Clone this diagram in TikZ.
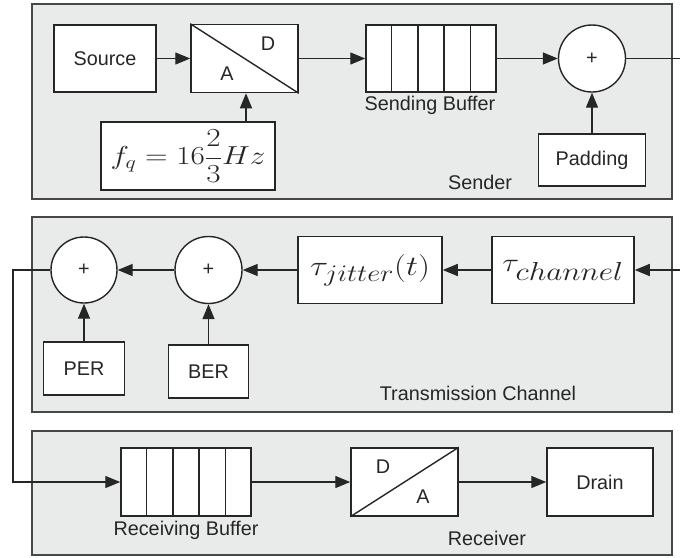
\RequirePackage{fix-cm}
\documentclass[tikz,border=0pt]{standalone}
\usepackage[no-math]{fontspec}
\setmainfont{Liberation Sans}
\usepackage{graphicx}
\usetikzlibrary{arrows.meta,calc}
\definecolor{panel}{RGB}{233,234,234}
\definecolor{ink}{RGB}{38,38,38}
\begin{document}
\begin{tikzpicture}[x=1pt,y=-1pt,
  every node/.style={font=\fontsize{19.8}{22}\selectfont, text=ink},
  panelbox/.style={draw=ink!85, fill=panel, line width=1.6pt},
  blk/.style={draw=ink, fill=white, line width=1.5pt, inner sep=0pt},
  sumnode/.style={circle, draw=ink, fill=white, line width=1.4pt, minimum size=67pt, inner sep=0pt},
  arr/.style={draw=ink, line width=1.4pt, -{Triangle[length=15pt,width=12pt]}},
  wire/.style={draw=ink, line width=1.4pt},
  mathbig/.style={font=\fontsize{26}{30}\selectfont}
]
\useasboundingbox (0,0) rectangle (680,557);

% panels
\draw[panelbox] (32,4) rectangle (672,199);
\draw[panelbox] (32,217) rectangle (672,412);
\draw[panelbox] (32,431) rectangle (672,555);

% ---------- Sender ----------
\node[blk, minimum width=102pt, minimum height=67pt] (src) at (105,58.5) {Source};
\node[blk, minimum width=107pt, minimum height=68pt] (ad) at (244.5,58.5) {};
\draw[wire] (ad.north west) -- (ad.south east);
\node (adD) at (268,44) {D};
\node (adA) at (227,74) {A};
\node[blk, minimum width=174pt, minimum height=68pt, mathbig] (freq) at (188,156)
  {\scalebox{1.2}[1]{$\displaystyle f_q=16\frac{2}{3}Hz$}};
\node[blk, minimum width=130pt, minimum height=67pt] (sbuf) at (431,58.5) {};
\foreach \i in {1,...,4}
  \draw[wire] ($(sbuf.north west)!\i/5!(sbuf.north east)$) -- ($(sbuf.south west)!\i/5!(sbuf.south east)$);
\node (sbufl) at (430,105) {Sending Buffer};
\node[sumnode] (p1) at (592,58.5) {+};
\node[blk, minimum width=107pt, minimum height=52pt] (pad) at (592,160) {Padding};
\node (sender) at (480,182) {Sender};
\coordinate (outS) at (680,58.5);

\draw[arr] (src.east) -- (ad.west);
\draw[arr] (ad.south |- freq.north) ++(1.5,0) -- ($(ad.south)+(1.5,0)$);
\draw[arr] (ad.east) -- (sbuf.west);
\draw[arr] (sbuf.east) -- (p1.west);
\draw[arr] (pad.north) -- (p1.south);
\draw[wire] (p1.east) -- (outS);

% ---------- Transmission Channel ----------
\coordinate (inC) at (680,270);
\node[blk, minimum width=142pt, minimum height=67pt, mathbig] (chan) at (563,270)
  {\scalebox{1.2}[1]{$\tau_{\textstyle channel}$}};
\node[blk, minimum width=144pt, minimum height=67pt, font=\fontsize{28}{32}\selectfont] (jit) at (370,270)
  {\scalebox{1.2}[1]{$\tau_{\scalebox{0.85}{$\textstyle jitter$}}(t)$}};
\node[sumnode] (pB) at (208.5,270) {+};
\node[sumnode, minimum size=66pt] (pA) at (84,270) {+};
\node[blk, minimum width=81pt, minimum height=53pt] (per) at (84,368.5) {PER};
\node[blk, minimum width=80pt, minimum height=53pt] (ber) at (208.5,371.5) {BER};
\node (tcl) at (478,393) {Transmission Channel};
\coordinate (bend) at (13,270);

\draw[arr] (inC) -- (chan.east);
\draw[arr] (chan.west) -- (jit.east);
\draw[arr] (jit.west) -- (pB.east);
\draw[arr] (pB.west) -- (pA.east);
\draw[arr] (per.north) -- (pA.south);
\draw[arr] (ber.north) -- (pB.south);

% ---------- Receiver ----------
\node[blk, minimum width=130pt, minimum height=68pt] (rbuf) at (186,482) {};
\foreach \i in {1,...,4}
  \draw[wire] ($(rbuf.north west)!\i/5!(rbuf.north east)$) -- ($(rbuf.south west)!\i/5!(rbuf.south east)$);
\node (rbufl) at (186,530) {Receiving Buffer};
\node[blk, minimum width=107pt, minimum height=68pt] (da) at (404.5,482) {};
\draw[wire] (da.south west) -- (da.north east);
\node (daD) at (383,467) {D};
\node (daA) at (423,497) {A};
\node[blk, minimum width=106pt, minimum height=68pt] (drain) at (600,482) {Drain};
\node (recv) at (487,538) {Receiver};

\draw[arr] (pA.west) -- (bend) |- (rbuf.west);
\draw[arr] (rbuf.east) -- (da.west);
\draw[arr] (da.east) -- (drain.west);
\end{tikzpicture}
\end{document}
